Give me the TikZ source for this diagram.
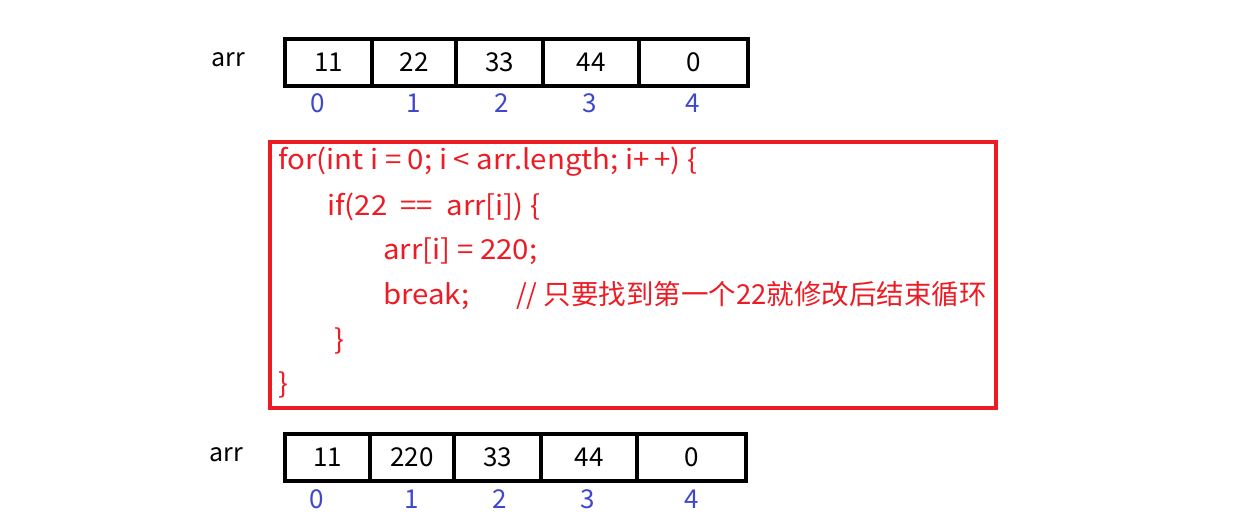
\documentclass[tikz,border=0pt]{standalone}
\usepackage{fontspec}
\setmainfont{Noto Sans CJK SC}
\newfontfamily\codelat{Noto Sans CJK SC}[FakeStretch=1.07]
\definecolor{boxred}{HTML}{ED1C24}
\definecolor{idxblue}{HTML}{3F48CC}
\begin{document}
\begin{tikzpicture}[x=1pt,y=-1pt,
  cell/.style={draw=black, line width=4pt, outer sep=0pt, inner sep=0pt,
    minimum width=#1, minimum height=47pt, anchor=north west,
    text depth=-2pt, font=\fontsize{26}{30}\selectfont},
  idx/.style={text=idxblue, font=\fontsize{26}{30}\selectfont, inner sep=0pt},
  lbl/.style={text=black, font=\fontsize{25}{28}\selectfont, inner sep=0pt},
  code/.style={text=boxred, font=\codelat\fontsize{27.5}{30}\selectfont, inner sep=0pt, anchor=base west},
  cmt/.style={text=boxred, font=\fontsize{27.5}{30}\selectfont, inner sep=0pt, anchor=base west},
  codebox/.style={draw=boxred, line width=4pt, outer sep=0pt, inner sep=0pt, anchor=north west}
]
\useasboundingbox (0,0) rectangle (1258,524);
% top array
\node[lbl] (arrA) at (228,60) {arr};
\node[cell=87] (a0) at (285,39) {11};
\node[cell=84] (a1) at (372,39) {22};
\node[cell=87] (a2) at (456,39) {33};
\node[cell=96] (a3) at (543,39) {44};
\node[cell=109] (a4) at (639,39) {0};
\node[idx] (ia0) at (318,103) {0};
\node[idx] (ia1) at (414,103) {1};
\node[idx] (ia2) at (502,103) {2};
\node[idx] (ia3) at (590,103) {3};
\node[idx] (ia4) at (693,103) {4};
% code box
\node[codebox, minimum width=726pt, minimum height=266pt] (box) at (270,142) {};
\node[code] (l1) at (278,169) {for(int i = 0; i < arr.length; i+\,+) \{};
\node[code] (l2) at (327,215) {if(22\ \ ==\ \ arr[i]) \{};
\node[code] (l3) at (383,259) {arr[i] = 220;};
\node[code] (l4) at (383,304) {break;};
\node[cmt] (l4c) at (516,304) {// 只要找到第一个22就修改后结束循环};
\node[code] (l5) at (334,349) {\}};
\node[code] (l6) at (278,393) {\}};
% bottom array
\node[lbl] (arrB) at (226,455) {arr};
\node[cell=85] (b0) at (285,434) {11};
\node[cell=84] (b1) at (370,434) {220};
\node[cell=87] (b2) at (454,434) {33};
\node[cell=96] (b3) at (541,434) {44};
\node[cell=109] (b4) at (637,434) {0};
\node[idx] (ib0) at (317,499) {0};
\node[idx] (ib1) at (412,499) {1};
\node[idx] (ib2) at (500,499) {2};
\node[idx] (ib3) at (588,499) {3};
\node[idx] (ib4) at (692,499) {4};
\end{tikzpicture}
\end{document}
